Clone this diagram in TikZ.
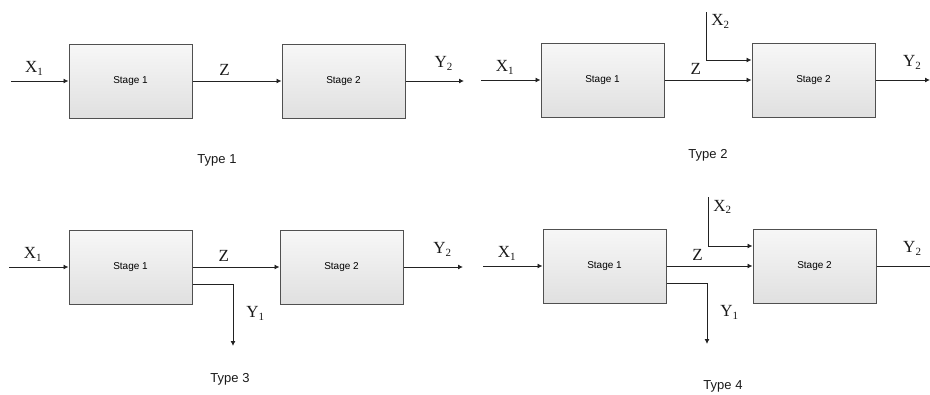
\documentclass[tikz,border=0pt]{standalone}
\usepackage{fontspec}
\setmainfont{Liberation Serif}
\setsansfont{Liberation Sans}
\usepackage{tikz}
\usetikzlibrary{arrows.meta}
\definecolor{stage_top}{HTML}{F7F7F7}
\definecolor{stage_bot}{HTML}{E0E0E0}
\definecolor{edge}{HTML}{505050}
\definecolor{wire}{HTML}{222222}
\newcommand\subs[1]{\raisebox{-.35ex}{\fontsize{11}{11}\selectfont #1}}

\begin{document}
\begin{tikzpicture}[x=1pt, y=-1pt]
            \tikzstyle{stage} = [draw = edge, line width = 1pt, minimum width = 123pt, minimum height = 74pt, top color = stage_top, bottom color = stage_bot, font = \sffamily\fontsize{10}{10}\selectfont, text = black];
            \tikzstyle{flow} = [draw = wire, line width = .9pt, -{Latex[length=5pt, width=5pt]}];
            \tikzstyle{lbl} = [font = \fontsize{17}{17}\selectfont, text = black!90, inner sep = 1pt];
            \tikzstyle{typelabel} = [font = \sffamily\fontsize{13}{13}\selectfont, text = black!90];
            \useasboundingbox (0,0) rectangle (930,394);
            \foreach \t/\ax/\bx/\yy/\inx/\outx/\py/\tx/\ty in {1/69/282/81/11/464/.65/217/160,
                2/541/752/80/481/930/.67/708/155,
                3/69/280/267/9/463/.65/230/379,
                4/543/753/266/483/945/.52/723/386}
            {
            \node[stage] (s1-\t) at (\ax+61.5,\yy) {Stage 1};
            \node[stage] (s2-\t) at (\bx+61.5,\yy) {Stage 2};
            \coordinate (in-\t) at (\inx,\yy);
            \coordinate (out-\t) at (\outx,\yy);
            \draw[flow] (in-\t) -- node[lbl, above = 4pt, pos = .4] {X\subs{1}} (s1-\t);
            \draw[flow] (s1-\t) -- node[lbl, above = 4pt, pos = .36] {Z} (s2-\t);
            \draw[flow] (s2-\t) -- node[lbl, above = 9pt, pos = \py] {Y\subs{2}} (out-\t);
            \node[typelabel] (type-\t) at (\tx,\ty) {Type \t};}
            % side inputs and outputs
            \coordinate (x2-2) at (706,12);
            \coordinate (x2-4) at (708,197);
            \coordinate (y1-3) at (233,346);
            \coordinate (y1-4) at (707,344);
            \foreach \t in {2, 4}
            {\draw[flow] (x2-\t) |- node[lbl, right = 4pt, pos = .1] {X\subs{2}} ([yshift=20pt]s2-\t.west);}
            \foreach \t in {3, 4}
            {\draw[flow] ([yshift=-17pt]s1-\t.east) -| node[lbl, right = 12pt, pos = .74] {Y\subs{1}} (y1-\t);}
        \end{tikzpicture}
\end{document}
